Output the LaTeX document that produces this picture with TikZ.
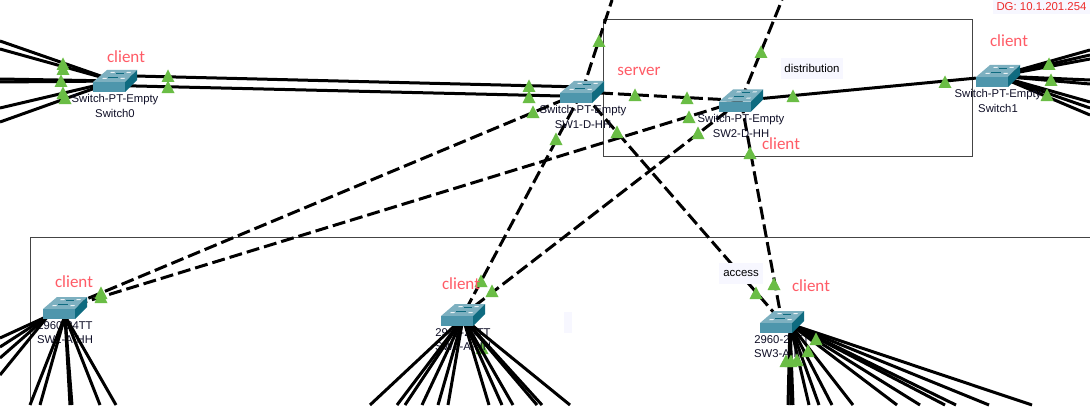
\documentclass[tikz,border=0pt]{standalone}
\usepackage{fontspec}
\setmainfont{Liberation Sans}
\newfontfamily\clientfont{Carlito}
\definecolor{swtop}{HTML}{7DB0C0}
\definecolor{swfront}{HTML}{4E96AC}
\definecolor{swside}{HTML}{0F6B80}
\definecolor{tag}{HTML}{FF5B66}
\definecolor{dgred}{HTML}{EE2A2A}
\definecolor{trigreen}{HTML}{6ABD45}
\definecolor{pale}{HTML}{F7F7FF}
\definecolor{boxline}{HTML}{444444}
\definecolor{devtext}{HTML}{101028}
\tikzset{
  link/.style={black,line width=3pt},
  dlink/.style={black,line width=3pt,dash pattern=on 13pt off 5pt},
  switchbox/.style={inner sep=0pt,minimum width=44pt,minimum height=20pt},
  devlabel/.style={inner sep=0pt,font=\fontsize{11.3}{13}\selectfont,text=devtext,align=center},
  roletag/.style={inner sep=0pt,font=\clientfont\fontsize{17}{20}\selectfont,text=tag},
  paletag/.style={fill=pale,inner sep=0pt,font=\fontsize{11.4}{13}\selectfont,text=black},
  frame/.style={draw=boxline,line width=1pt},
  pics/tri/.style={code={\fill[trigreen] (-6.5,6) -- (0,-6.5) -- (6.5,6) -- cycle;}},
  pics/sw/.style={code={
    \fill[swtop] (-22,1) -- (-8,-11) -- (22,-11) -- (10,1) -- cycle;
    \fill[swfront] (-22,1) rectangle (10,11);
    \fill[swside] (10,1) -- (22,-11) -- (22,-1) -- (10,11) -- cycle;
    \fill[white!85!swtop] (-13,-2) -- (-9,-2) -- (-8,-3) -- (-12,-3) -- cycle;
    \fill[white!85!swtop] (5,-2) -- (9,-2) -- (10,-3) -- (6,-3) -- cycle;
    \fill[white!85!swtop] (-5,-8) -- (-1,-8) -- (0,-9) -- (-4,-9) -- cycle;
    \fill[white!85!swtop] (11,-8) -- (15,-8) -- (16,-9) -- (12,-9) -- cycle;
    \draw[swside,line width=.6pt] (-7,-4) -- (3,-4) (1,-8) -- (9,-8);
  }}
}
\begin{document}
\begin{tikzpicture}[x=1pt,y=-1pt]
\useasboundingbox (0,0) rectangle (1090,420);
\fill[white] (0,0) rectangle (1090,420);
% frames
\node[inner sep=0pt,minimum width=369pt,minimum height=137pt,frame] (zone) at (787.5,88) {};
\coordinate (za) at (1092,237.5);
\coordinate (zb) at (30.5,237.5);
\coordinate (zc) at (30.5,405);
\draw[frame] (za) -- (zb) -- (zc);
% switches (anchors)
\node[switchbox] (s0) at (115,81) {};
\node[switchbox] (sd1) at (582,92) {};
\node[switchbox] (sd2) at (741,100.5) {};
\node[switchbox] (s1) at (998,76) {};
\node[switchbox] (sa1) at (65,308) {};
\node[switchbox] (sa2) at (463,315) {};
\node[switchbox] (sa3) at (782,322) {};
% hidden triangle and labels below the access links
\pic at (482,348) {tri};
\node[devlabel] (la1a) at (65,326) {2960-24TT};
\node[devlabel] (la1b) at (65,340) {SW1-A-HH};
\node[devlabel] (la2a) at (463,333) {2960-24TT};
\node[devlabel] (la2b) at (463,347) {SW2-A-HH};
\node[devlabel] (la3a) at (782,340) {2960-24TT};
\node[devlabel] (la3b) at (782,354) {SW3-A-HH};
% fan-out of Switch0
\foreach \y in {41,49,79,82,108,122}{
  \coordinate (f) at (0,\y);
  \draw[link] (s0.center) -- (f);
}
% fan-out of Switch1
\foreach \y in {50,55,59,80,84,102,108,115}{
  \coordinate (f) at (1090,\y);
  \draw[link] (s1.center) -- (f);
}
% fan-out of SW1-A-HH
\coordinate (a1l) at (48,316);
\coordinate (a1b) at (65,316);
\foreach \y in {338,347,358,375}{
  \coordinate (f) at (0,\y);
  \draw[link] (a1l) -- (f);
}
\foreach \x in {30,40,70,72,100,116}{
  \coordinate (f) at (\x,405);
  \draw[link] (a1b) -- (f);
}
% fan-out of SW2-A-HH
\coordinate (a2b) at (463,318);
\foreach \x in {370,397,405,422,438,448,489,502,513,537,542,570}{
  \coordinate (f) at (\x,405);
  \draw[link] (a2b) -- (f);
}
% fan-out of SW3-A-HH
\coordinate (a3b) at (790,324);
\foreach \x in {788,791,793,809,819,832,853,897,920,945,956,989,1032}{
  \coordinate (f) at (\x,405);
  \draw[link] (a3b) -- (f);
}
% trunks
\draw[link] ([yshift=5.5pt]s0.center) -- ([yshift=5pt]sd1.center);
\draw[link] ([yshift=-4.5pt]s0.center) -- ([yshift=-4.5pt]sd1.center);
\draw[link] (sd2) -- (s1);
\coordinate (t1) at (612,0);
\coordinate (t2) at (782,0);
\draw[dlink] (sd1.center) -- (t1);
\draw[dlink] (sd2.center) -- (t2);
\draw[dlink] (sd1.center) -- (sd2.center);
\draw[dlink] (sd1.center) -- (sa1.center);
\draw[dlink] (sd2.center) -- (sa1.center);
\draw[dlink] (sd1.center) -- (sa2.center);
\draw[dlink] (sd2.center) -- (sa2.center);
\draw[dlink] (sd1.center) -- (sa3.center);
\draw[dlink] (sd2.center) -- (sa3.center);
% port triangles
\foreach \p in {(63,64),(63,69),(61,81),(63,93),(65,98),(168,76),(168,87),
  (529,86),(529,97),(533,112),(556,139),(617,132),(599,41),(635,95),(687,98),
  (689,117),(698,133),(761,52),(793,96),(750,153),(945,82),(1049,64),(1051,80),
  (1047,95),(101,293),(101,297),(481,281),(492,291),(756,293),(774,284),(816,339),
  (808,351),(786,361),(791,361),(797,360)}{
  \pic at \p {tri};
}
% switches
\foreach \n in {s0,sd1,sd2,s1,sa1,sa2,sa3}{
  \pic at (\n.center) {sw};
}
% labels
\node[devlabel] (l0a) at (115,99.5) {Switch-PT-Empty};
\node[devlabel] (l0b) at (115,113.5) {Switch0};
\node[devlabel] (l1a) at (583,110.5) {Switch-PT-Empty};
\node[devlabel] (l1b) at (583,124.5) {SW1-D-HH};
\node[devlabel] (l2a) at (741,119.5) {Switch-PT-Empty};
\node[devlabel] (l2b) at (741,133.5) {SW2-D-HH};
\node[devlabel] (l3a) at (998,94.5) {Switch-PT-Empty};
\node[devlabel] (l3b) at (998,108.5) {Switch1};
\node[paletag,minimum width=62pt,minimum height=21pt] (dist) at (812,68.5) {distribution};
\node[paletag,minimum width=44pt,minimum height=21pt] (acc) at (741,273.5) {access};
\node[paletag,minimum width=8pt,minimum height=21pt] (blank) at (568,322.5) {};
\node[paletag,minimum width=97pt,minimum height=15pt,text=dgred] (dg) at (1041.5,7) {DG: 10.1.201.254};
\node[roletag] (c0) at (126,57) {client};
\node[roletag] (srv) at (639,71) {server};
\node[roletag] (c1) at (781,144) {client};
\node[roletag] (c2) at (1009,41) {client};
\node[roletag] (c3) at (74,282) {client};
\node[roletag] (c4) at (461,284) {client};
\node[roletag] (c5) at (811,286) {client};
\end{tikzpicture}
\end{document}
